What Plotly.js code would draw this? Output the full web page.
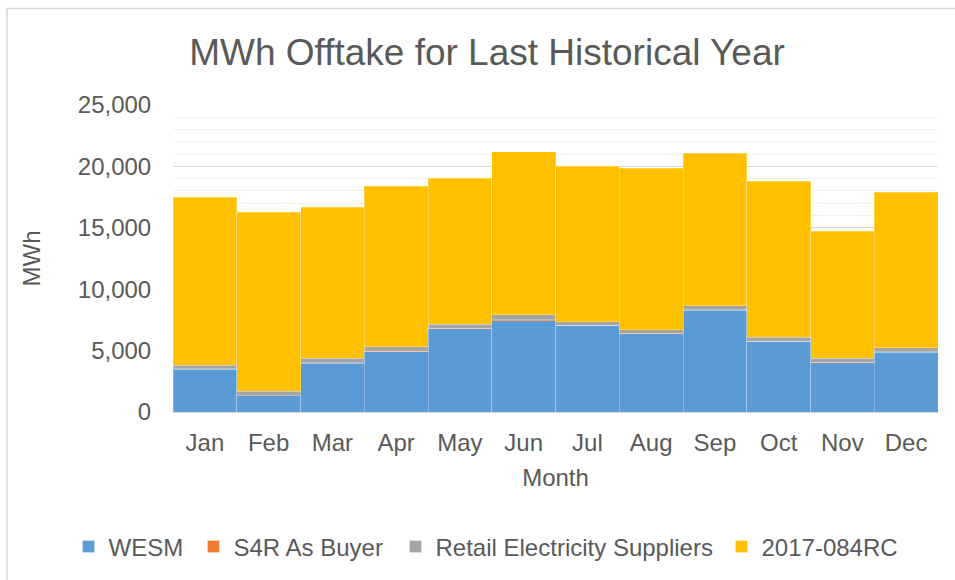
<!DOCTYPE html>
<html>
<head>
<meta charset="utf-8">
<script src="https://cdn.plot.ly/plotly-3.0.1.min.js"></script>
<style>
  html, body { margin: 0; padding: 0; background: #fff; }
  #chart { width: 955px; height: 580px; }
</style>
</head>
<body>
<div id="chart"></div>
<script>
const months = ["Jan", "Feb", "Mar", "Apr", "May", "Jun", "Jul", "Aug", "Sep", "Oct", "Nov", "Dec"];
const wesm = [3475, 1330, 3990, 4910, 6760, 7435, 7060, 6380, 8305, 5755, 4015, 4885];
const s4rAsBuyer = [60, 10, 20, 20, 60, 60, 20, 20, 40, 20, 20, 20];
const retailSuppliers = [292, 370, 360, 390, 320, 430, 275, 280, 315, 305, 335, 335];
const rc2017084 = [13653, 14552, 12300, 13080, 11915, 13275, 12675, 13160, 12405, 12730, 10345, 12675];

const seriesNames = ["WESM", "S4R As Buyer", "Retail Electricity Suppliers", "2017-084RC"];
const seriesValues = [wesm, s4rAsBuyer, retailSuppliers, rc2017084];
const seriesColors = ["#5B9BD5", "#ED7D31", "#A5A5A5", "#FFC000"];
const legendIds = ["legend", "legend2", "legend3", "legend4"];
const legendLeft = [68.5, 193.5, 395.5, 721.5];

const textColor = "#595959";
const fontFamily = "'Liberation Sans', Arial, sans-serif";

const traces = seriesNames.map((name, i) => ({
  type: "bar",
  name: name,
  x: months,
  y: seriesValues[i],
  legend: legendIds[i],
  marker: { color: seriesColors[i], line: { color: "rgba(255,255,255,0.5)", width: 0.5 } },
  hoverinfo: "x+y+name"
}));

const layout = {
  width: 955,
  height: 580,
  paper_bgcolor: "#ffffff",
  plot_bgcolor: "#ffffff",
  font: { family: fontFamily, color: textColor, size: 24 },
  margin: { l: 173, r: 17, t: 105, b: 168, pad: 0 },
  barmode: "stack",
  bargap: 0,
  title: {
    text: "MWh Offtake for Last Historical Year",
    font: { size: 37, color: textColor, family: fontFamily },
    xref: "container", x: 487 / 955, xanchor: "center",
    yref: "container", y: 1 - 52 / 580, yanchor: "middle"
  },
  xaxis: {
    type: "category",
    showgrid: false,
    showline: true,
    linecolor: "#D9D9D9",
    linewidth: 1,
    ticks: "outside",
    ticklen: 9,
    tickcolor: "rgba(0,0,0,0)",
    tickfont: { size: 24, color: textColor },
    title: { text: "Month", font: { size: 24, color: textColor }, standoff: 14 },
    zeroline: false
  },
  yaxis: {
    range: [0, 25000],
    dtick: 5000,
    tickformat: ",d",
    showgrid: true,
    gridcolor: "#D9D9D9",
    gridwidth: 1,
    minor: { dtick: 1000, showgrid: true, gridcolor: "#F0F0F0", gridwidth: 1 },
    ticks: "outside",
    ticklen: 16,
    tickcolor: "rgba(0,0,0,0)",
    tickfont: { size: 24, color: textColor },
    title: { text: "MWh", font: { size: 24, color: textColor }, standoff: 30 },
    zeroline: false,
    showline: false,
    fixedrange: true
  },
  showlegend: true,
  shapes: [{
    type: "rect",
    xref: "paper", yref: "paper",
    x0: (7 - 173) / 765, x1: 1.2,
    y0: -1, y1: (412 - 8.5) / 307,
    line: { color: "#D9D9D9", width: 1.5 },
    fillcolor: "rgba(0,0,0,0)",
    layer: "below"
  }]
};

legendIds.forEach((id, i) => {
  layout[id] = {
    orientation: "h",
    xref: "container", x: legendLeft[i] / 955, xanchor: "left",
    yref: "container", y: 1 - 547 / 580, yanchor: "middle",
    font: { size: 24, color: textColor },
    bgcolor: "rgba(0,0,0,0)",
    borderwidth: 0,
    itemclick: false
  };
});

Plotly.newPlot("chart", traces, layout, { displayModeBar: false, staticPlot: true });
</script>
</body>
</html>
